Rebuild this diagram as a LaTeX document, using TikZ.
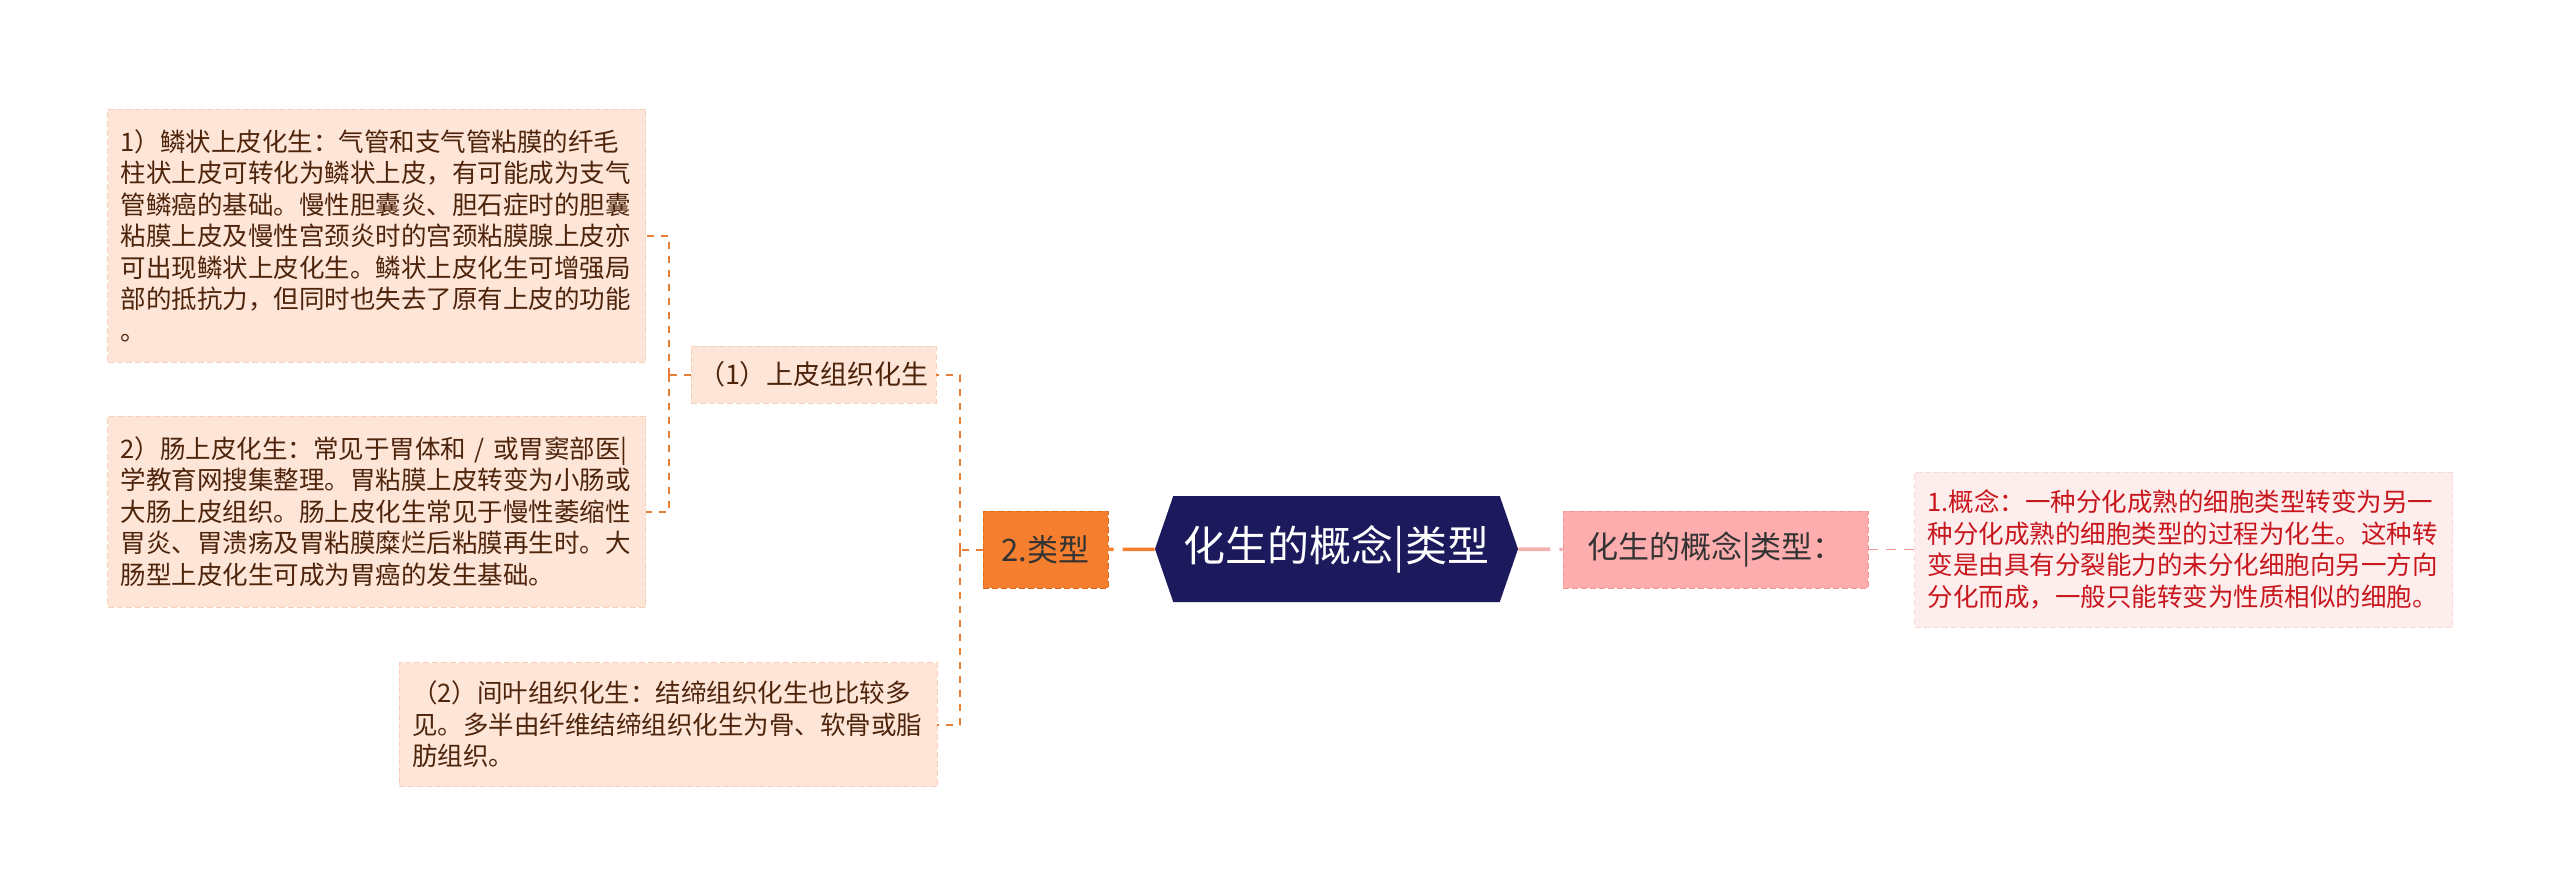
\documentclass[tikz,border=0pt]{standalone}
\usepackage{fontspec}
\setmainfont{Noto Sans CJK SC}
\usetikzlibrary{shapes.symbols}
\definecolor{peach}{HTML}{FDE5D8}
\definecolor{peachline}{HTML}{F8CFB8}
\definecolor{leaftext}{HTML}{4E240B}
\definecolor{linkorange}{HTML}{E67E36}
\definecolor{typeorange}{HTML}{F57F2F}
\definecolor{typeline}{HTML}{E2691C}
\definecolor{hubnavy}{HTML}{1C1A5C}
\definecolor{rose}{HTML}{FDADAD}
\definecolor{roseline}{HTML}{F29696}
\definecolor{roselink}{HTML}{F5B0B0}
\definecolor{blush}{HTML}{FDEDED}
\definecolor{blushline}{HTML}{F8D8D8}
\definecolor{defred}{HTML}{C8161D}
\tikzset{
  leaf/.style={draw=peachline, fill=peach, dash pattern=on 3pt off 1.5pt, text=leaftext,
    align=left, inner xsep=6.5pt, inner ysep=0pt, text width=256pt,
    font=\fontsize{12.75pt}{15.75pt}\selectfont},
  tag/.style={draw=peachline, fill=peach, dash pattern=on 3pt off 1.5pt, text=leaftext,
    minimum width=122.5pt, minimum height=28.5pt, inner sep=0pt,
    font=\fontsize{13.5pt}{16pt}\selectfont},
  branch/.style={draw=linkorange, line width=1pt, dash pattern=on 3.5pt off 3.5pt},
  trunk/.style={draw=#1, line width=1.8pt, dash pattern=on 16pt off 4.5pt on 10pt off 0pt}
}
\begin{document}
\begin{tikzpicture}[x=0.5pt, y=-0.5pt, line join=round]
  \fill[white] (0,0) rectangle (2560,895);
  \useasboundingbox (0,0) rectangle (2560,895);
  % centre
  \node[shape=signal, signal to=west and east, signal pointer angle=142, fill=hubnavy,
    text=white, minimum width=181.5pt, minimum height=53pt, inner sep=0pt,
    font=\fontsize{21pt}{24pt}\selectfont] (hub) at (1336.5,549) {化生的概念|类型};
  % left side
  \node[draw=typeline, fill=typeorange, dash pattern=on 3pt off 1.5pt, text=black!80,
    minimum width=62.5pt, minimum height=38.5pt, inner sep=0pt,
    font=\fontsize{15.5pt}{18pt}\selectfont] (type) at (1045.5,549.5) {2.类型};
  \node[tag] (epi) at (813.5,374.5) {（1）上皮组织化生};
  \node[leaf, minimum height=62pt] (mes) at (668,724.5) {（2）间叶组织化生：结缔组织化生也比较多\\见。多半由纤维结缔组织化生为骨、软骨或脂\\肪组织。};
  \node[leaf, minimum height=126.5pt] (sq) at (376.5,235.5) {1）鳞状上皮化生：气管和支气管粘膜的纤毛\\柱状上皮可转化为鳞状上皮，有可能成为支气\\管鳞癌的基础。慢性胆囊炎、胆石症时的胆囊\\粘膜上皮及慢性宫颈炎时的宫颈粘膜腺上皮亦\\可出现鳞状上皮化生。鳞状上皮化生可增强局\\部的抵抗力，但同时也失去了原有上皮的功能\\。};
  \node[leaf, minimum height=95.5pt] (gut) at (376.5,511.5) {2）肠上皮化生：常见于胃体和 / 或胃窦部医|\\学教育网搜集整理。胃粘膜上皮转变为小肠或\\大肠上皮组织。肠上皮化生常见于慢性萎缩性\\胃炎、胃溃疡及胃粘膜糜烂后粘膜再生时。大\\肠型上皮化生可成为胃癌的发生基础。};
  % right side
  \node[draw=roseline, fill=rose, dash pattern=on 3pt off 1.5pt, text=black!80,
    minimum width=152.5pt, minimum height=38.5pt, inner sep=0pt,
    font=\fontsize{15.5pt}{18pt}\selectfont] (concept) at (1715.5,549.5) {化生的概念|类型：};
  \node[leaf, draw=blushline, fill=blush, text=defred, minimum height=77.5pt] (defn) at (2183.5,549.5) {1.概念：一种分化成熟的细胞类型转变为另一\\种分化成熟的细胞类型的过程为化生。这种转\\变是由具有分裂能力的未分化细胞向另一方向\\分化而成，一般只能转变为性质相似的细胞。};
  % links
  \draw[trunk=typeorange] (hub) -- (type);
  \draw[trunk=roselink] (hub) -- (concept);
  \draw[draw=roseline, line width=0.8pt, dash pattern=on 5pt off 4pt] (concept) -- (defn);
  \draw[branch] (type.west) -- ++(-23,0) coordinate (typefork);
  \foreach \kid in {epi,mes} \draw[branch] (typefork) |- (\kid);
  \draw[branch] (epi.west) -- ++(-22,0) coordinate (epifork);
  \foreach \kid in {sq,gut} \draw[branch] (epifork) |- (\kid);
\end{tikzpicture}
\end{document}
